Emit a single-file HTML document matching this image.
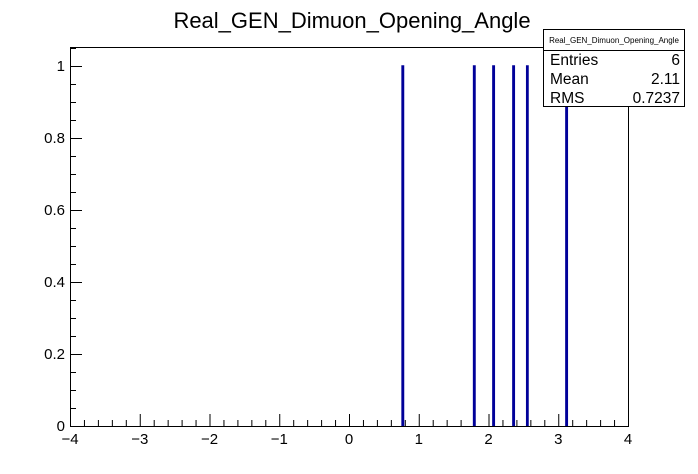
<!DOCTYPE html>
<html><head><meta charset="utf-8"><style>
html,body{margin:0;padding:0;background:#fff;}
svg{display:block;font-family:"Liberation Sans",sans-serif;}
</style></head><body>
<svg id="c" width="698" height="474" xmlns="http://www.w3.org/2000/svg">
<text x="352" y="28" font-size="22" text-anchor="middle">Real_GEN_Dimuon_Opening_Angle</text>
<g id="axes"></g>
<g id="hist"></g>
<g>
<rect x="543.5" y="29.5" width="141" height="77" fill="#fff" stroke="#000" stroke-width="1"/>
<line x1="543.5" y1="50.5" x2="684.5" y2="50.5" stroke="#000"/>
<text x="614" y="43" font-size="8" text-anchor="middle">Real_GEN_Dimuon_Opening_Angle</text>
<text x="550" y="65" font-size="15.5">Entries</text><text x="680" y="65" font-size="15.5" text-anchor="end">6</text>
<text x="550" y="84" font-size="15.5">Mean</text><text x="680" y="84" font-size="15.5" text-anchor="end">2.11</text>
<text x="550" y="103" font-size="15.5">RMS</text><text x="680" y="103" font-size="15.5" text-anchor="end">0.7237</text>
</g>
</svg>
<script>
const binCenters=[0.772,1.796,2.073,2.36,2.557,3.12];
const binCounts=[1,1,1,1,1,1];
const xTicks=[-4,-3,-2,-1,0,1,2,3,4];
const yTicks=[0,0.2,0.4,0.6,0.8,1];
const NS="http://www.w3.org/2000/svg";
const L=70,R=628,T=47,B=426,xmin=-4,xmax=4;
const X=v=>L+(v-xmin)/(xmax-xmin)*(R-L);
const Y=v=>B-v*(B-66);
function mk(tag,attrs,parent){const e=document.createElementNS(NS,tag);for(const k in attrs)e.setAttribute(k,attrs[k]);parent.appendChild(e);return e;}
const ax=document.getElementById('axes');
const frame=mk('rect',{x:L+.5,y:T+.5,width:R-L,height:B-T,fill:'none',stroke:'#000'},ax);


for(let v=-4;v<=4.0001;v+=0.2){const major=Math.abs(v-Math.round(v))<1e-6;
 mk('line',{x1:X(v)+.5,x2:X(v)+.5,y1:B,y2:B-(major?12:6),stroke:'#000'},ax);}
xTicks.forEach(t=>{const e=mk('text',{x:X(t),y:B+18,'font-size':15,'text-anchor':'middle'},ax);e.textContent=t<0?'\u2212'+(-t):String(t);
 
 });
for(let v=0;v<=1.05001;v+=0.05){const major=Math.abs(v*5-Math.round(v*5))<1e-6;
 mk('line',{x1:L,x2:L+(major?12:6),y1:Y(v)+.5,y2:Y(v)+.5,stroke:'#000'},ax);}
yTicks.forEach(t=>{const e=mk('text',{x:L-5,y:Y(t)+5,'font-size':15,'text-anchor':'end'},ax);e.textContent=String(t);
 
 });
const h=document.getElementById('hist');
const bw=0.02;
binCenters.forEach((c,i)=>{const x0=X(c-bw/2),x1=X(c+bw/2);
 const p=mk('path',{d:`M${x0.toFixed(1)},${B} V${Y(binCounts[i]).toFixed(1)} H${x1.toFixed(1)} V${B}`,fill:'none',stroke:'#000099','stroke-width':1.5},h);
 
 });
</script>
</body></html>
